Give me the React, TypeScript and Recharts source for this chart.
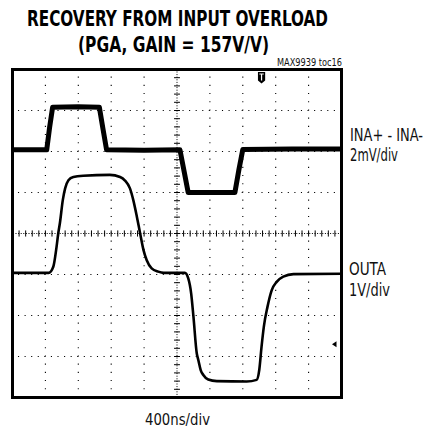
import React from 'react';
import { LineChart, Line, XAxis, YAxis, ReferenceLine, ReferenceArea, ReferenceDot } from 'recharts';

// time in divisions (400ns/div), amplitude in divisions
const inaDiff = [
  { t: 0, v: 2.04 }, { t: 1.04, v: 2.04 }, { t: 1.13, v: 2.6 }, { t: 1.22, v: 3.08 },
  { t: 2.0, v: 3.09 }, { t: 2.64, v: 3.08 }, { t: 2.75, v: 2.55 }, { t: 2.86, v: 2.04 },
  { t: 4.0, v: 2.03 }, { t: 5.09, v: 2.04 }, { t: 5.22, v: 1.5 }, { t: 5.34, v: 1.0 },
  { t: 6.0, v: 1.0 }, { t: 6.76, v: 1.0 }, { t: 6.88, v: 1.55 }, { t: 7.0, v: 2.05 },
  { t: 8.5, v: 2.06 }, { t: 10, v: 2.06 },
];

const outA = [
  { t: 0, v: -0.96 }, { t: 1.1, v: -0.96 }, { t: 1.24, v: -0.81 }, { t: 1.34, v: -0.32 },
  { t: 1.39, v: 0 }, { t: 1.44, v: 0.25 }, { t: 1.53, v: 0.82 }, { t: 1.6, v: 1.1 },
  { t: 1.7, v: 1.3 }, { t: 1.85, v: 1.38 }, { t: 2.15, v: 1.41 }, { t: 2.96, v: 1.43 },
  { t: 3.27, v: 1.38 }, { t: 3.42, v: 1.29 }, { t: 3.57, v: 1.1 }, { t: 3.67, v: 0.82 },
  { t: 3.78, v: 0.41 }, { t: 3.88, v: 0 }, { t: 3.98, v: -0.4 }, { t: 4.08, v: -0.65 },
  { t: 4.23, v: -0.85 }, { t: 4.43, v: -0.93 }, { t: 4.6, v: -0.96 }, { t: 5.24, v: -0.96 },
  { t: 5.34, v: -1.09 }, { t: 5.43, v: -1.46 }, { t: 5.5, v: -2.03 }, { t: 5.6, v: -2.92 },
  { t: 5.65, v: -3.09 }, { t: 5.72, v: -3.33 }, { t: 5.8, v: -3.45 }, { t: 5.95, v: -3.56 },
  { t: 6.21, v: -3.6 }, { t: 7.12, v: -3.61 }, { t: 7.42, v: -3.57 }, { t: 7.5, v: -3.33 },
  { t: 7.57, v: -2.76 }, { t: 7.64, v: -2.27 }, { t: 7.75, v: -1.79 }, { t: 7.88, v: -1.38 },
  { t: 8.03, v: -1.18 }, { t: 8.23, v: -1.05 }, { t: 8.54, v: -0.99 }, { t: 10, v: -0.98 },
];

const xMajor = [1, 2, 3, 4, 6, 7, 8, 9];
const yMajor = [-3, -2, -1, 1, 2, 3];
const xMinor = Array.from({ length: 49 }, (_, i) => Math.round((i + 1) * 2) / 10);
const yMinor = Array.from({ length: 39 }, (_, i) => Math.round(-40 + (i + 1) * 2) / 10);
const xCenter = 5;
const yCenter = 0;
const triggerAt = 7.57;
const outAMarker = -2.7;

const titleLines = ['RECOVERY FROM INPUT OVERLOAD', '(PGA, GAIN = 157V/V)'];
const tocLabel = 'MAX9939 toc16';
const ch1Labels = ['INA+ - INA-', '2mV/div'];
const ch2Labels = ['OUTA', '1V/div'];
const timeLabel = '400ns/div';

const narrow = "'Liberation Sans Narrow', 'DejaVu Sans Condensed', 'Roboto Condensed', 'Liberation Sans', sans-serif";

const TriggerShape = (p: any) => {
  const cx = p.cx, cy = p.cy;
  return (
    <g>
      <path d={`M ${cx - 3.6} ${cy + 2.5} h 7.2 v 8.5 l -3.6 3 l -3.6 -3 z`} fill="#000" />
      <path d={`M ${cx - 2.2} ${cy + 4.5} h 4.4 M ${cx} ${cy + 4.5} v 6.5`} stroke="#fff" strokeWidth={1.2} />
    </g>
  );
};

const ArrowShape = (p: any) => {
  const cx = p.cx, cy = p.cy;
  return <path d={`M ${cx - 9.5} ${cy} L ${cx - 5} ${cy - 3} L ${cx - 5} ${cy + 3} Z`} fill="#000" />;
};

const FitText = ({ x, y, w, size, sy, bold, children }: any) => (
  <text
    transform={`translate(${x} ${y}) scale(1 ${sy})`}
    x={0}
    y={0}
    fontSize={size}
    fontFamily={narrow}
    fontWeight={bold ? 'bold' : 'normal'}
    fill={bold ? '#000' : '#111'}
    textLength={w}
    lengthAdjust="spacingAndGlyphs"
  >
    {children}
  </text>
);

export default function App() {
  const tickX = 0.09;
  const tickY = 0.075;
  return (
    <div style={{ position: 'absolute', left: 0, top: 0, width: 427, height: 433, background: '#fff' }}>
      <LineChart
        width={427}
        height={433}
        margin={{ top: 69.5, right: 85.5, bottom: 35.5, left: 12.5 }}
      >
        <XAxis
          type="number"
          dataKey="t"
          domain={[0, 10]}
          ticks={xMinor}
          allowDataOverflow
          mirror
          height={0}
          axisLine={false}
          tickLine={{ stroke: '#000', strokeWidth: 1 }}
          tickSize={3}
          tick={false}
        />
        <YAxis
          type="number"
          orientation="right"
          domain={[-4, 4]}
          ticks={yMinor}
          allowDataOverflow
          mirror
          width={0}
          axisLine={false}
          tickLine={{ stroke: '#000', strokeWidth: 1 }}
          tickSize={3}
          tick={false}
        />
        {yMajor.map((v) => (
          <ReferenceLine key={'h' + v} y={v} stroke="#000" strokeWidth={1.1} strokeDasharray="1.1 5.48" />
        ))}
        {xMajor.map((v) => (
          <ReferenceLine key={'v' + v} x={v} stroke="#000" strokeWidth={1.1} strokeDasharray="1.1 7.1" />
        ))}
        <ReferenceLine y={yCenter} stroke="#000" strokeWidth={1} strokeDasharray="1 1.6" />
        <ReferenceLine x={xCenter} stroke="#000" strokeWidth={1} strokeDasharray="1 1.6" />
        {xMinor.map((v) => (
          <ReferenceLine
            key={'cx' + v}
            segment={[{ x: v, y: yCenter - tickY }, { x: v, y: yCenter + tickY }]}
            stroke="#000"
            strokeWidth={1}
          />
        ))}
        {yMinor.map((v) => (
          <ReferenceLine
            key={'cy' + v}
            segment={[{ x: xCenter - tickX, y: v }, { x: xCenter + tickX, y: v }]}
            stroke="#000"
            strokeWidth={1}
          />
        ))}
        <ReferenceArea x1={0} x2={10} y1={-4} y2={4} fill="none" fillOpacity={0} stroke="#000" strokeWidth={3} />
        <Line
          data={inaDiff}
          dataKey="v"
          type="linear"
          stroke="#000"
          strokeWidth={5}
          dot={false}
          activeDot={false}
          isAnimationActive={false}
          strokeLinejoin="round"
        />
        <Line
          data={outA}
          dataKey="v"
          type="monotoneX"
          stroke="#000"
          strokeWidth={2.6}
          dot={false}
          activeDot={false}
          isAnimationActive={false}
        />
        <ReferenceDot x={triggerAt} y={4} r={0} shape={TriggerShape} />
        <ReferenceDot x={10} y={outAMarker} r={0} shape={ArrowShape} />
      </LineChart>
      <svg
        width={427}
        height={433}
        style={{ position: 'absolute', left: 0, top: 0, pointerEvents: 'none' }}
      >
        <FitText x={27} y={25.5} w={301} size={17.7} sy={1.24} bold>{titleLines[0]}</FitText>
        <FitText x={78} y={52} w={191} size={17.7} sy={1.24} bold>{titleLines[1]}</FitText>
        <FitText x={277} y={66} w={65} size={9.2} sy={1.05}>{tocLabel}</FitText>
        <FitText x={350} y={141} w={73} size={14.3} sy={1.22}>{ch1Labels[0]}</FitText>
        <FitText x={350} y={161} w={48} size={14.3} sy={1.22}>{ch1Labels[1]}</FitText>
        <FitText x={349} y={275} w={37} size={14.3} sy={1.22}>{ch2Labels[0]}</FitText>
        <FitText x={349} y={296} w={41} size={14.3} sy={1.22}>{ch2Labels[1]}</FitText>
        <FitText x={145} y={425} w={65} size={14.3} sy={1.15}>{timeLabel}</FitText>
      </svg>
    </div>
  );
}
